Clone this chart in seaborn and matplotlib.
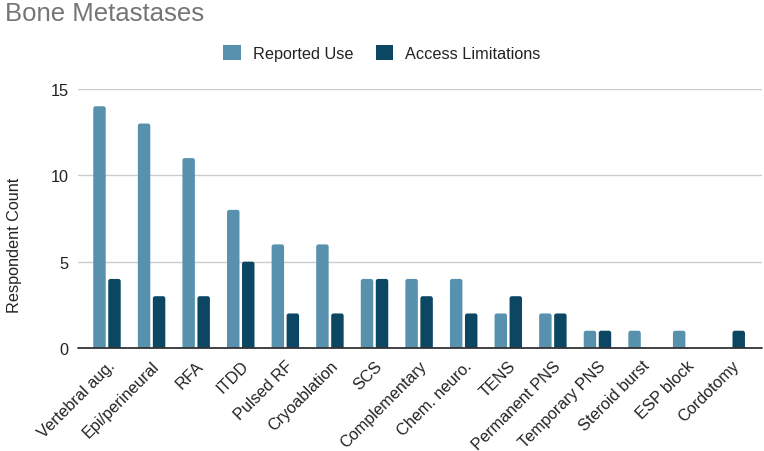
import matplotlib
matplotlib.use("Agg")
import matplotlib.pyplot as plt
import seaborn as sns
import pandas as pd
from matplotlib.patches import FancyBboxPatch, Patch

categories = ["Vertebral aug.", "Epi/perineural", "RFA", "ITDD", "Pulsed RF",
              "Cryoablation", "SCS", "Complementary", "Chem. neuro.", "TENS",
              "Permanent PNS", "Temporary PNS", "Steroid burst", "ESP block", "Cordotomy"]
reported_use = [14, 13, 11, 8, 6, 6, 4, 4, 4, 2, 2, 1, 1, 1, 0]
access_limitations = [4, 3, 3, 5, 2, 2, 4, 3, 2, 3, 2, 1, 0, 0, 1]
series_names = ["Reported Use", "Access Limitations"]
y_ticks = [0, 5, 10, 15]

colors = {"Reported Use": "#5891AE", "Access Limitations": "#0B4662"}

df = pd.DataFrame({
    "Category": categories * 2,
    "Series": [series_names[0]] * len(categories) + [series_names[1]] * len(categories),
    "Count": reported_use + access_limitations,
})

sns.set_theme(style="white")
plt.rcParams["font.family"] = ["Liberation Sans", "DejaVu Sans"]

FS = 11.7
fig = plt.figure(figsize=(7.64, 4.52), dpi=100)
ax = fig.add_axes([78 / 764, 1 - 349 / 452, 684 / 764, 259 / 452])

sns.barplot(data=df, x="Category", y="Count", hue="Series", order=categories,
            hue_order=series_names, palette=colors, width=0.673, gap=0.17,
            ax=ax, legend=False, saturation=1)

# Rounded tops on bars
xr = 0.05
mut_aspect = (15 / 259 * 2.3) / xr
bars = list(ax.patches)
for b in bars:
    x, w, h = b.get_x(), b.get_width(), b.get_height()
    fc = b.get_facecolor()
    b.set_visible(False)
    if h <= 0:
        continue
    ry = xr * mut_aspect
    fb = FancyBboxPatch((x + xr, -1.0), w - 2 * xr, h + 1.0 - ry,
                        boxstyle=f"round,pad={xr},rounding_size={xr}",
                        mutation_aspect=mut_aspect,
                        facecolor=fc, edgecolor="none", zorder=2)
    ax.add_patch(fb)

ax.set_xlim(-0.65, 14.69)
ax.set_ylim(0, 15)
ax.set_yticks(y_ticks)
ax.set_yticklabels([str(t) for t in y_ticks], fontsize=FS, color="#222222")
for y in y_ticks[1:]:
    ax.axhline(y, color="#cccccc", lw=1.0, zorder=0)
ax.axhline(0, color="#333333", lw=1.3, zorder=3, clip_on=False)

for s in ax.spines.values():
    s.set_visible(False)
ax.tick_params(axis="both", length=0)
ax.tick_params(axis="y", pad=7)

ax.set_xlabel("")
ax.set_ylabel("Respondent Count", fontsize=FS, color="#222222")
ax.yaxis.set_label_coords(-0.082, 0.40)
ax.set_xticks(range(len(categories)))
ax.set_xticklabels(categories, rotation=45, ha="right", rotation_mode="anchor",
                   fontsize=FS, color="#222222")
ax.tick_params(axis="x", pad=7)

fig.text(5 / 764, 1 - 14 / 452, "Bone Metastases", fontsize=18.5, color="#757575",
         ha="left", va="center")

handles = [Patch(facecolor=colors[s], edgecolor="none", label=s) for s in series_names]
fig.legend(handles=handles, loc="center", bbox_to_anchor=(0.5, 1 - 54 / 452),
           ncol=2, frameon=False, fontsize=FS, handlelength=1.05, handleheight=1.05,
           handletextpad=0.75, columnspacing=1.4, labelcolor="#222222")

fig.savefig("out.png", dpi=100)
